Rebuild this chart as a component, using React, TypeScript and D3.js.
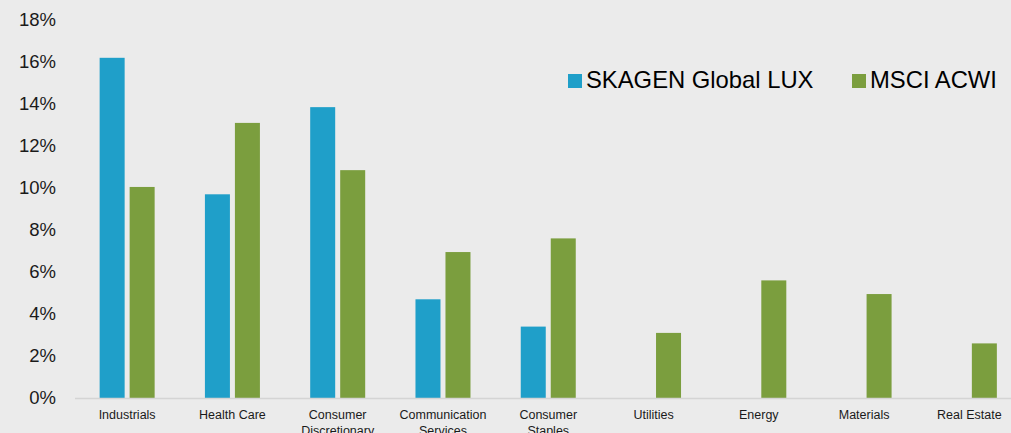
import React from "react";
import * as d3 from "d3";

const categories = [
  ["Industrials"],
  ["Health Care"],
  ["Consumer", "Discretionary"],
  ["Communication", "Services"],
  ["Consumer", "Staples"],
  ["Utilities"],
  ["Energy"],
  ["Materials"],
  ["Real Estate"],
];
const skagen: (number | null)[] = [16.2, 9.7, 13.85, 4.7, 3.4, null, null, null, null];
const msci: number[] = [10.05, 13.1, 10.85, 6.95, 7.6, 3.1, 5.6, 4.95, 2.6];
const yTicks = [0, 2, 4, 6, 8, 10, 12, 14, 16, 18];
const seriesNames = ["SKAGEN Global LUX", "MSCI ACWI"];
const colors = ["#1f9fc9", "#7b9e3e"];

export default function App() {
  const W = 1011, H = 433;
  const x = d3.scaleBand<number>().domain(d3.range(categories.length)).range([74.5, 1022]);
  const y = d3.scaleLinear().domain([0, 18]).range([398, 20]);
  const bw = 25, gap = 5;
  return (
    <svg width={W} height={H} style={{ position: "absolute", left: 0, top: 0, background: "#ebebeb" }}
      fontFamily="'Liberation Sans', Arial, sans-serif">
      <rect x={0} y={0} width={W} height={H} fill="#ebebeb" />
      {yTicks.map((t) => (
        <text key={t} x={56} y={y(t)} dy="0.35em" textAnchor="end" fontSize={18.5} fill="#1a1a1a">{t}%</text>
      ))}
      {categories.map((c, i) => {
        const cx = x(i)! + x.bandwidth() / 2;
        const s = skagen[i];
        return (
          <g key={i}>
            {s != null && (
              <rect x={cx - gap / 2 - bw} y={y(s)} width={bw} height={y(0) - y(s)} fill={colors[0]} />
            )}
            <rect x={cx + gap / 2} y={y(msci[i])} width={bw} height={y(0) - y(msci[i])} fill={colors[1]} />
            {c.map((line, j) => (
              <text key={j} x={cx} y={419 + j * 15.5} textAnchor="middle" fontSize={12.5} fill="#1a1a1a">{line}</text>
            ))}
          </g>
        );
      })}
      <line x1={75} x2={W} y1={398.5} y2={398.5} stroke="#d4d4d4" strokeWidth={1.5} />
      <g>
        <rect x={568} y={74} width={14} height={14} fill={colors[0]} />
        <text x={586} y={88} fontSize={23.8} fill="#000">{seriesNames[0]}</text>
        <rect x={852} y={74} width={14} height={14} fill={colors[1]} />
        <text x={870} y={88} fontSize={23.8} fill="#000">{seriesNames[1]}</text>
      </g>
    </svg>
  );
}
